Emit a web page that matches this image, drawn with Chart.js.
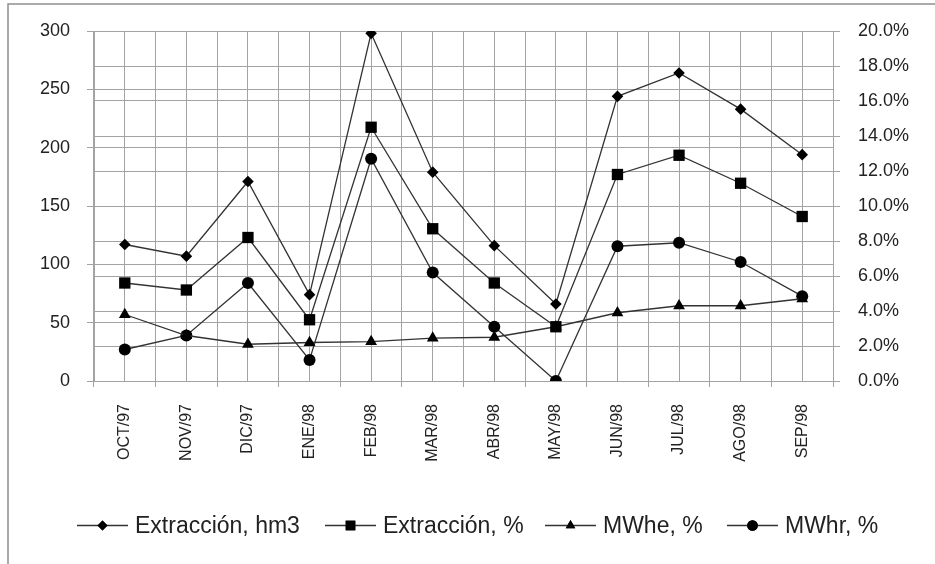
<!DOCTYPE html>
<html>
<head>
<meta charset="utf-8">
<script src="https://cdn.jsdelivr.net/npm/chart.js@4/dist/chart.umd.min.js"></script>
<style>
  html, body { margin: 0; padding: 0; background: #fff; }
  #wrap { width: 935px; height: 564px; }
</style>
</head>
<body>
<div id="wrap"><canvas id="c" width="935" height="564"></canvas></div>
<script>
const categories = ['OCT/97','NOV/97','DIC/97','ENE/98','FEB/98','MAR/98','ABR/98','MAY/98','JUN/98','JUL/98','AGO/98','SEP/98'];
const extraccionHm3 = [117, 107, 171, 74, 298, 179, 116, 66, 244, 264, 233, 194];
const extraccionPct = [5.6, 5.2, 8.2, 3.5, 14.5, 8.7, 5.6, 3.1, 11.8, 12.9, 11.3, 9.4];
const mwhePct = [3.8, 2.6, 2.1, 2.2, 2.25, 2.45, 2.5, 3.1, 3.9, 4.3, 4.3, 4.7];
const mwhrPct = [1.8, 2.6, 5.6, 1.2, 12.7, 6.2, 3.1, 0.0, 7.7, 7.9, 6.8, 4.85];
const leftTicks = [0, 50, 100, 150, 200, 250, 300];
const rightTicks = [0, 2, 4, 6, 8, 10, 12, 14, 16, 18, 20];
const seriesNames = ['Extracción, hm3', 'Extracción, %', 'MWhe, %', 'MWhr, %'];

const GRID = '#a3a3a3';
const TXT = '#222222';
const LINE = '#333333';
const FONT = "'Liberation Sans', Arial, sans-serif";

const styles = [
  { pointStyle: 'rectRot', radius: 5.8, legendRadius: 5 },
  { pointStyle: 'rect', radius: 8, legendRadius: 6.8 },
  { pointStyle: 'triangle', radius: 6.8, legendRadius: 5.5 },
  { pointStyle: 'circle', radius: 6, legendRadius: 5.3 }
];
const seriesData = [extraccionHm3, extraccionPct, mwhePct, mwhrPct];
const axesFor = ['y', 'y1', 'y1', 'y1'];

const datasets = seriesData.map((d, i) => ({
  label: seriesNames[i],
  data: d,
  yAxisID: axesFor[i],
  xAxisID: 'x',
  borderColor: LINE,
  borderWidth: 1.3,
  backgroundColor: '#000',
  pointBackgroundColor: '#000',
  pointBorderColor: '#000',
  pointBorderWidth: 0,
  pointStyle: styles[i].pointStyle,
  pointRadius: styles[i].radius,
  pointHoverRadius: styles[i].radius,
  tension: 0,
  fill: false
}));

const frame = {
  id: 'frame',
  beforeDraw(chart) {
    const ctx = chart.ctx;
    ctx.save();
    ctx.fillStyle = '#fff';
    ctx.fillRect(0, 0, chart.width, chart.height);
    ctx.strokeStyle = '#8f8f8f';
    ctx.lineWidth = 1.5;
    ctx.strokeRect(8, 4, 1200, 1200);
    ctx.restore();
  }
};

const legendStarts = [77, 325, 545, 727];
const customLegend = {
  id: 'customLegend',
  afterDraw(chart) {
    const ctx = chart.ctx;
    const y = 525.5;
    ctx.save();
    datasets.forEach((ds, i) => {
      const x0 = legendStarts[i];
      const x1 = x0 + 51;
      ctx.strokeStyle = LINE;
      ctx.lineWidth = 1.5;
      ctx.beginPath();
      ctx.moveTo(x0, y);
      ctx.lineTo(x1, y);
      ctx.stroke();
      ctx.fillStyle = '#000';
      ctx.strokeStyle = '#000';
      Chart.helpers.drawPoint(ctx, { pointStyle: styles[i].pointStyle, radius: styles[i].legendRadius, borderWidth: 0, rotation: 0 }, (x0 + x1) / 2, y);
      ctx.fill();
      ctx.fillStyle = TXT;
      ctx.font = '23px ' + FONT;
      ctx.textBaseline = 'middle';
      ctx.textAlign = 'left';
      ctx.fillText(ds.label, x1 + 7, y + 1);
    });
    ctx.restore();
  }
};

new Chart(document.getElementById('c'), {
  type: 'line',
  data: { labels: categories, datasets },
  options: {
    responsive: false,
    animation: false,
    devicePixelRatio: 1,
    layout: { padding: { top: 31, bottom: 0, left: 0, right: 0 } },
    plugins: { legend: { display: false }, tooltip: { enabled: false } },
    scales: {
      x: {
        type: 'category',
        position: 'bottom',
        offset: true,
        grid: { offset: true, color: GRID, lineWidth: 1, drawTicks: true, tickLength: 6, tickColor: GRID },
        border: { display: true, color: GRID, width: 1 },
        ticks: {
          color: TXT,
          font: { size: 16, family: FONT },
          minRotation: 90,
          maxRotation: 90,
          autoSkip: false,
          padding: 17
        },
        afterFit(scale) { scale.height = 183; }
      },
      x2: {
        type: 'category',
        position: 'top',
        offset: true,
        labels: categories,
        grid: { offset: false, color: GRID, lineWidth: 1, drawTicks: false },
        border: { display: false },
        ticks: { display: false },
        afterFit(scale) { scale.height = 0; }
      },
      y: {
        type: 'linear',
        position: 'left',
        min: 0,
        max: 300,
        afterBuildTicks(scale) { scale.ticks = leftTicks.map(v => ({ value: v })); },
        grid: { color: GRID, lineWidth: 1, drawTicks: true, tickLength: 7, tickColor: GRID },
        border: { display: true, color: GRID, width: 1 },
        ticks: { color: TXT, font: { size: 18, family: FONT }, padding: 17 },
        afterFit(scale) { scale.width = 94; }
      },
      y1: {
        type: 'linear',
        position: 'right',
        min: 0,
        max: 20,
        afterBuildTicks(scale) { scale.ticks = rightTicks.map(v => ({ value: v })); },
        grid: { color: GRID, lineWidth: 1, drawTicks: true, tickLength: 7, tickColor: GRID },
        border: { display: true, color: GRID, width: 1 },
        ticks: {
          color: TXT,
          font: { size: 18, family: FONT },
          padding: 18,
          callback: v => v.toFixed(1) + '%'
        },
        afterFit(scale) { scale.width = 102; }
      }
    }
  },
  plugins: [frame, customLegend]
});
</script>
</body>
</html>
